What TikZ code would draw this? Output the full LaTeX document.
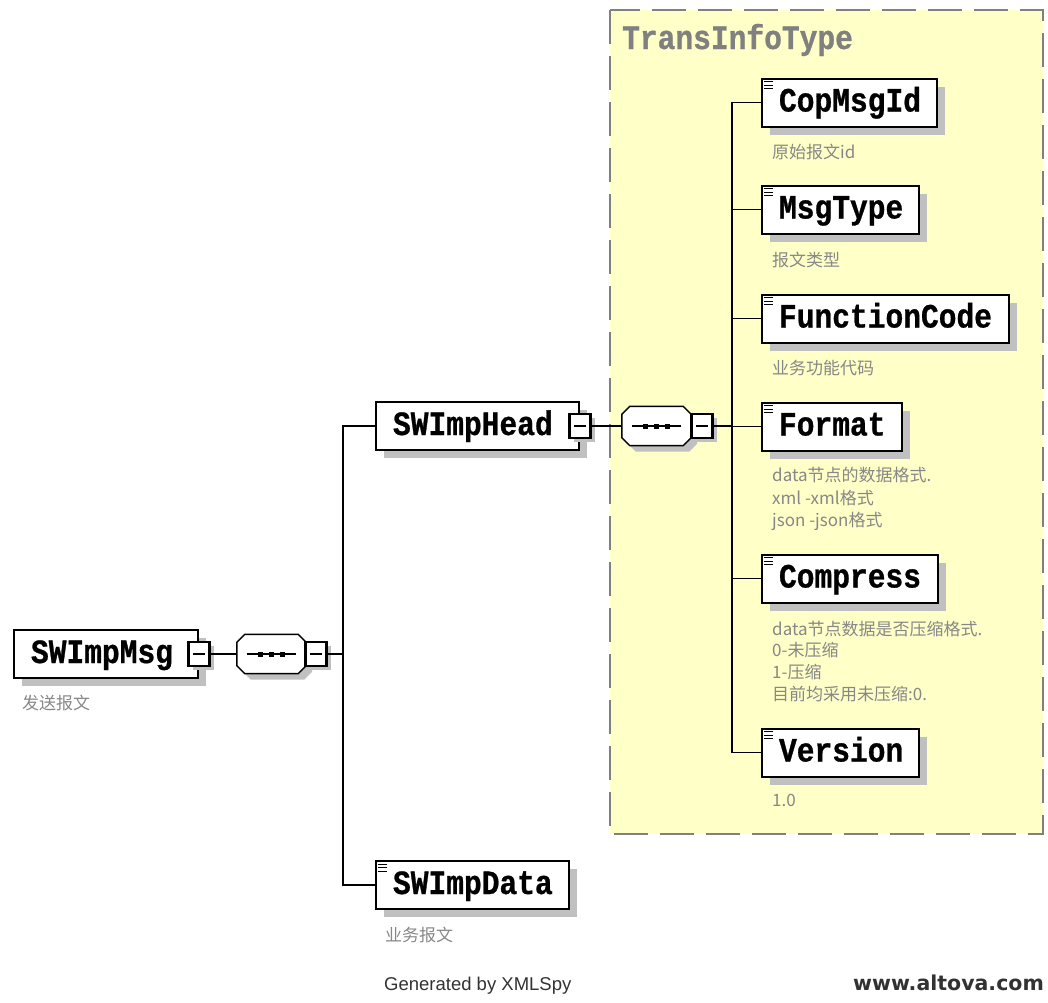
\documentclass[tikz,border=0pt]{standalone}
\usepackage{fontspec}
\usetikzlibrary{shadows}
\newfontfamily\elemfont{Liberation Mono}[FakeStretch=0.87, BoldFeatures={FakeBold=0.8}]
\newfontfamily\cjkfont{Noto Sans CJK SC}
\newfontfamily\footfont{Liberation Sans}
\newfontfamily\webfont{DejaVu Sans}
\definecolor{bgyellow}{RGB}{255,255,200}
\definecolor{dashgray}{RGB}{128,128,128}
\definecolor{shadowgray}{RGB}{192,192,192}
\definecolor{annotgray}{RGB}{135,135,135}
\definecolor{footgray}{RGB}{50,50,50}
\tikzset{
  myshadow/.style={drop shadow={shadow xshift=8pt, shadow yshift=-8pt, fill=shadowgray, opacity=1}},
  elem/.style={draw, line width=2pt, fill=white, anchor=west, minimum height=48pt,
    inner xsep=17pt, inner ysep=0pt, text width=#1, align=left,
    text height=21pt, text depth=3pt,
    font=\elemfont\bfseries\fontsize{34}{34}\selectfont, myshadow},
  minusbox/.style={draw, line width=2.2pt, fill=white, minimum width=21pt, minimum height=24pt,
    inner sep=0pt, drop shadow={shadow xshift=4pt, shadow yshift=-4pt, fill=shadowgray, opacity=1}},
  seqbox/.style={rectangle, minimum width=69pt, minimum height=39pt, inner sep=0pt},
  annot/.style={anchor=base west, inner sep=0pt, text=annotgray,
    font=\cjkfont\fontsize{17}{22}\selectfont},
  conn/.style={line width=1.8pt},
  octoline/.style={draw=black, fill=white, line width=1.5pt},
}
\newcommand\eqicon[1]{\foreach \dy in {4,7.5,11}{\draw[line width=1pt] ([xshift=3pt,yshift=-\dy pt]#1.north west) -- ++(9,0);}}
\newcommand\octopath[2]{([xshift=8pt+#2,yshift=-#2]#1.north west) -- ([xshift=-8pt+#2,yshift=-#2]#1.north east) -- ([xshift=#2,yshift=-8pt-#2]#1.north east) -- ([xshift=#2,yshift=8pt-#2]#1.south east) -- ([xshift=-8pt+#2,yshift=-#2]#1.south east) -- ([xshift=8pt+#2,yshift=-#2]#1.south west) -- ([xshift=#2,yshift=8pt-#2]#1.south west) -- ([xshift=#2,yshift=-8pt-#2]#1.north west) -- cycle}
\newcommand\octo[1]{%
  \fill[shadowgray] \octopath{#1}{6pt};
  \path[octoline] \octopath{#1}{0pt};
  \draw[line width=1.5pt] ([xshift=-25pt]#1.center) -- ([xshift=24pt]#1.center);
  \foreach \dx in {-11,0,11}{\fill[black] ([xshift=\dx pt-2.5pt,yshift=2.5pt]#1.center) rectangle ([xshift=\dx pt+2.5pt,yshift=-2.5pt]#1.center);}}
\begin{document}
\begin{tikzpicture}[x=1pt,y=-1pt]
\useasboundingbox (0,0) rectangle (1048,1002);
% background complex type box
\fill[bgyellow] (610,10) rectangle (1043,834);
\draw[dashgray, line width=2pt, dash pattern=on 34pt off 12pt] (610,10) rectangle (1043,834);
\node[anchor=base west, inner sep=0pt, text=dashgray, font=\elemfont\bfseries\fontsize{34}{34}\selectfont] (title) at (622,49) {TransInfoType};

% root
\node[elem=150] (msg) at (13,654) {SWImpMsg};
\node[minusbox] (msgm) at (msg.east) {\rule{12pt}{1.6pt}};
\node[seqbox] (s1) at (271.5,654) {};
\octo{s1}
\node[minusbox] (s1m) at (316,654) {\rule{12pt}{1.6pt}};

% level 1
\node[elem=169] (head) at (375,426) {SWImpHead};
\node[minusbox] (headm) at (head.east) {\rule{12pt}{1.6pt}};
\node[seqbox] (s2) at (656.5,426) {};
\octo{s2}
\node[minusbox] (s2m) at (702,426) {\rule{12pt}{1.6pt}};
\node[elem=159] (data) at (375,885) {SWImpData};
\eqicon{data}

% level 2
\node[elem=141] (cop) at (761,102.5) {CopMsgId};
\node[elem=123] (mtype) at (761,209.5) {MsgType};
\node[elem=213] (func) at (761,318.5) {FunctionCode};
\node[elem=106] (fmt) at (761,426.5) {Format};
\node[elem=142] (comp) at (761,578.5) {Compress};
\node[elem=123] (ver) at (761,752.5) {Version};
\foreach \n in {cop,mtype,func,fmt,comp,ver}{\eqicon{\n}}

% connectors
\coordinate (bus1) at (343,654);
\coordinate (bus2) at (732,426);
\draw[conn] (msgm.east) -- (s1.west);
\draw[conn] (s1m.east) -- (bus1);
\draw[conn] (head.west) -| (bus1) |- (data.west);
\draw[conn] (headm.east) -- (s2.west);
\draw[conn] (s2m.east) -- (bus2);
\draw[conn] (cop.west) -| (bus2) |- (ver.west);
\foreach \n in {mtype,func,fmt,comp}{\draw[conn] (\n.west) -- (\n.west -| bus2);}

% annotations
\node[annot] (a0) at (22,709) {发送报文};
\node[annot] (a1) at (772,158) {原始报文id};
\node[annot] (a2) at (772,266) {报文类型};
\node[annot] (a3) at (772,374) {业务功能代码};
\node[annot] (a4a) at (772,481) {data节点的数据格式.};
\node[annot] (a4b) at (772,504) {xml -xml格式};
\node[annot] (a4c) at (772,526) {json -json格式};
\node[annot] (a5a) at (772,635) {data节点数据是否压缩格式.};
\node[annot] (a5b) at (772,656) {0-未压缩};
\node[annot] (a5c) at (772,678) {1-压缩};
\node[annot] (a5d) at (772,700) {目前均采用未压缩:0.};
\node[annot] (a6) at (772,806) {1.0};
\node[annot] (a7) at (385,941) {业务报文};

% footer
\node[anchor=base west, inner sep=0pt, text=footgray, font=\footfont\fontsize{18.5}{20}\selectfont] (gen) at (384,990) {Generated by XMLSpy};
\node[anchor=base west, inner sep=0pt, text=footgray, font=\webfont\bfseries\fontsize{20.5}{22}\selectfont] (web) at (853,990) {www.altova.com};
\end{tikzpicture}
\end{document}
